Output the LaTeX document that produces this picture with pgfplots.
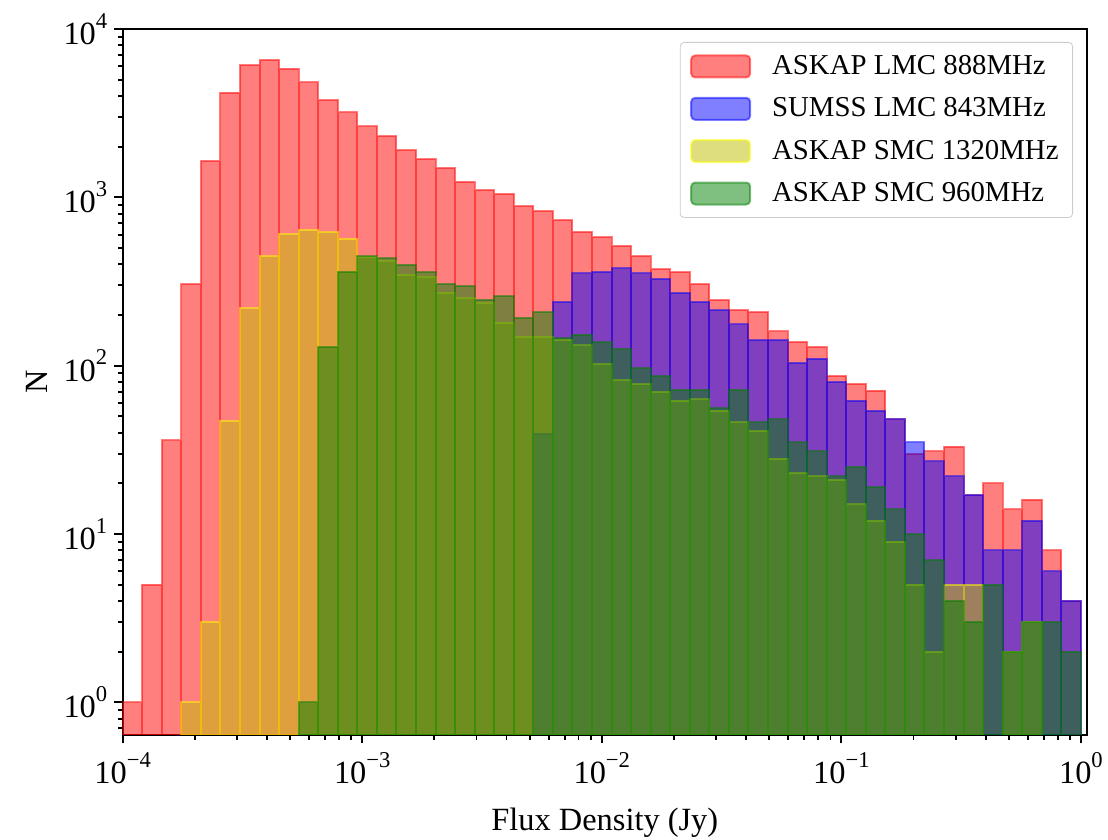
\documentclass[border=0pt]{standalone}
\usepackage{fontspec}
\setmainfont{Liberation Serif}
\usepackage{pgfplots}
\usepackage{pgfplotstable}
\pgfplotsset{compat=1.18}

\definecolor{cred}{rgb}{1,0,0}
\definecolor{cblue}{rgb}{0,0,1}
\definecolor{cyel}{rgb}{0.75,0.75,0}
\definecolor{cyeledge}{rgb}{1,1,0}
\definecolor{cgreen}{rgb}{0,0.5,0}

% left bin edge, count (last row = right edge of last bin)
\pgfplotstableread{
x y
1.0000e-4 1
1.2068e-4 5
1.4563e-4 36
1.7575e-4 305
2.1209e-4 1645
2.5595e-4 4190
3.0888e-4 6110
3.7276e-4 6545
4.4984e-4 5820
5.4287e-4 4810
6.5513e-4 3775
7.9060e-4 3200
9.5410e-4 2643
1.1514e-3 2307
1.3895e-3 1905
1.6768e-3 1684
2.0236e-3 1496
2.4421e-3 1234
2.9471e-3 1102
3.5565e-3 1047
4.2919e-3 885
5.1795e-3 827
6.2506e-3 731
7.5431e-3 623
9.1030e-3 580
1.0985e-2 514
1.3257e-2 447
1.5999e-2 374
1.9307e-2 359
2.3300e-2 305
2.8118e-2 245
3.3932e-2 214
4.0949e-2 208
4.9417e-2 160
5.9636e-2 138
7.1969e-2 129
8.6851e-2 87
1.0481e-1 78
1.2649e-1 71
1.5264e-1 48
1.8421e-1 30
2.2230e-1 31
2.6827e-1 33
3.2375e-1 17
3.9069e-1 20
4.7149e-1 14
5.6899e-1 16
6.8665e-1 8
8.2864e-1 4
1.0000 4
}\redtab

\pgfplotstableread{
x y
5.1795e-3 39
6.2506e-3 239
7.5431e-3 353
9.1030e-3 361
1.0985e-2 378
1.3257e-2 353
1.5999e-2 328
1.9307e-2 271
2.3300e-2 239
2.8118e-2 214
3.3932e-2 176
4.0949e-2 142
4.9417e-2 142
5.9636e-2 104
7.1969e-2 110
8.6851e-2 80
1.0481e-1 62
1.2649e-1 54
1.5264e-1 48
1.8421e-1 35
2.2230e-1 27
2.6827e-1 22
3.2375e-1 17
3.9069e-1 8
4.7149e-1 8
5.6899e-1 12
6.8665e-1 6
8.2864e-1 4
1.0000 4
}\bluetab

\pgfplotstableread{
x y
1.7575e-4 1
2.1209e-4 3
2.5595e-4 47
3.0888e-4 219
3.7276e-4 447
4.4984e-4 604
5.4287e-4 638
6.5513e-4 621
7.9060e-4 566
9.5410e-4 440
1.1514e-3 417
1.3895e-3 345
1.6768e-3 337
2.0236e-3 271
2.4421e-3 253
2.9471e-3 234
3.5565e-3 180
4.2919e-3 148
5.1795e-3 148
6.2506e-3 143
7.5431e-3 132
9.1030e-3 102
1.0985e-2 82
1.3257e-2 78
1.5999e-2 70
1.9307e-2 62
2.3300e-2 63
2.8118e-2 54
3.3932e-2 46
4.0949e-2 41
4.9417e-2 28
5.9636e-2 23
7.1969e-2 22
8.6851e-2 21
1.0481e-1 15
1.2649e-1 12
1.5264e-1 9
1.8421e-1 5
2.2230e-1 2
2.6827e-1 5
3.2375e-1 5
3.9069e-1 5
}\yeltabA

\pgfplotstableread{
x y
4.7149e-1 2
5.6899e-1 3
6.8665e-1 3
}\yeltabB

\pgfplotstableread{
x y
5.4287e-4 1
6.5513e-4 129
7.9060e-4 361
9.5410e-4 447
1.1514e-3 436
1.3895e-3 399
1.6768e-3 361
2.0236e-3 306
2.4421e-3 298
2.9471e-3 247
3.5565e-3 259
4.2919e-3 193
5.1795e-3 209
6.2506e-3 145
7.5431e-3 153
9.1030e-3 138
1.0985e-2 126
1.3257e-2 97
1.5999e-2 87
1.9307e-2 72
2.3300e-2 72
2.8118e-2 56
3.3932e-2 72
4.0949e-2 46
4.9417e-2 48
5.9636e-2 35
7.1969e-2 31
8.6851e-2 22
1.0481e-1 25
1.2649e-1 19
1.5264e-1 14
1.8421e-1 10
2.2230e-1 7
2.6827e-1 4
3.2375e-1 3
3.9069e-1 5
4.7149e-1 2
5.6899e-1 3
6.8665e-1 3
8.2864e-1 2
1.0000 2
}\greentab

\newcommand{\lfont}{\fontsize{14.4}{17}\selectfont}
\newcommand{\afont}{\fontsize{16.2}{19}\selectfont}
\newcommand{\tl}[1]{10\raisebox{0.5em}{\fontsize{11.3}{13}\selectfont #1}}

\begin{document}
\begin{tikzpicture}
\begin{axis}[
  name=ax,
  scale only axis,
  width=482.2pt, height=353pt,
  xmode=log, ymode=log,
  xmin=1e-4, xmax=1.06, ymin=0.64, ymax=1e4,
  log origin=infty,
  axis line style={line width=0.9pt},
  tick style={line width=0.9pt, black},
  major tick length=4.2pt, minor tick length=2.4pt,
  tick align=outside, tick pos=left,
  xtick={1e-4,1e-3,1e-2,1e-1,1},
  xticklabels={{\tl{−4}},{\tl{−3}},{\tl{−2}},{\tl{−1}},{\tl{0}}},
  minor xtick={2e-4,3e-4,4e-4,5e-4,6e-4,7e-4,8e-4,9e-4,2e-3,3e-3,4e-3,5e-3,6e-3,7e-3,8e-3,9e-3,2e-2,3e-2,4e-2,5e-2,6e-2,7e-2,8e-2,9e-2,2e-1,3e-1,4e-1,5e-1,6e-1,7e-1,8e-1,9e-1},
  ytick={1,10,100,1000,10000},
  yticklabels={{\tl{0}},{\tl{1}},{\tl{2}},{\tl{3}},{\tl{4}}},
  minor ytick={0.7,0.8,0.9,2,3,4,5,6,7,8,9,20,30,40,50,60,70,80,90,200,300,400,500,600,700,800,900,2000,3000,4000,5000,6000,7000,8000,9000},
  x tick label as interval=false,
  tick label style={font=\afont},
  xticklabel style={yshift=-1pt},
  xlabel={Flux Density (Jy)},
  ylabel={N},
  xlabel style={font=\afont, at={(axis description cs:0.5,0)}, anchor=base, yshift=-48pt},
  ylabel style={font=\afont, at={(axis description cs:-0.0889,0.5)}, anchor=center, rotate=0},
  legend cell align=left,
  legend style={at={(0.9855,0.9816)}, anchor=north east, draw=black!20, rounded corners=2pt,
    fill=white, font=\lfont, inner xsep=5pt, inner ysep=4.5pt,
    row sep=6.1pt},
  legend image code/.code={\path[#1] (0pt,-5.5pt) rectangle (29.5pt,5.5pt); \path (38pt,0pt);},
]
\addplot[ybar interval, fill=cred, draw=cred, opacity=0.5, line width=1pt] table[x=x,y=y] {\redtab};
\addlegendentry{ASKAP LMC 888MHz}
\addplot[ybar interval, fill=cblue, draw=cblue, opacity=0.5, line width=1pt] table[x=x,y=y] {\bluetab};
\addlegendentry{SUMSS LMC 843MHz}
\addplot[ybar interval, fill=cyel, draw=cyeledge, opacity=0.5, line width=1pt] table[x=x,y=y] {\yeltabA};
\addlegendentry{ASKAP SMC 1320MHz}
\addplot[ybar interval, fill=cyel, draw=cyeledge, opacity=0.5, line width=1pt, forget plot] table[x=x,y=y] {\yeltabB};
\addplot[ybar interval, fill=cgreen, draw=cgreen, opacity=0.5, line width=1pt] table[x=x,y=y] {\greentab};
\addlegendentry{ASKAP SMC 960MHz}
\end{axis}
\pgfresetboundingbox
\path[use as bounding box] ([xshift=-61.35pt,yshift=-52.5pt]ax.south west) rectangle ([xshift=10.5pt,yshift=14.5pt]ax.north east);
\end{tikzpicture}
\end{document}
